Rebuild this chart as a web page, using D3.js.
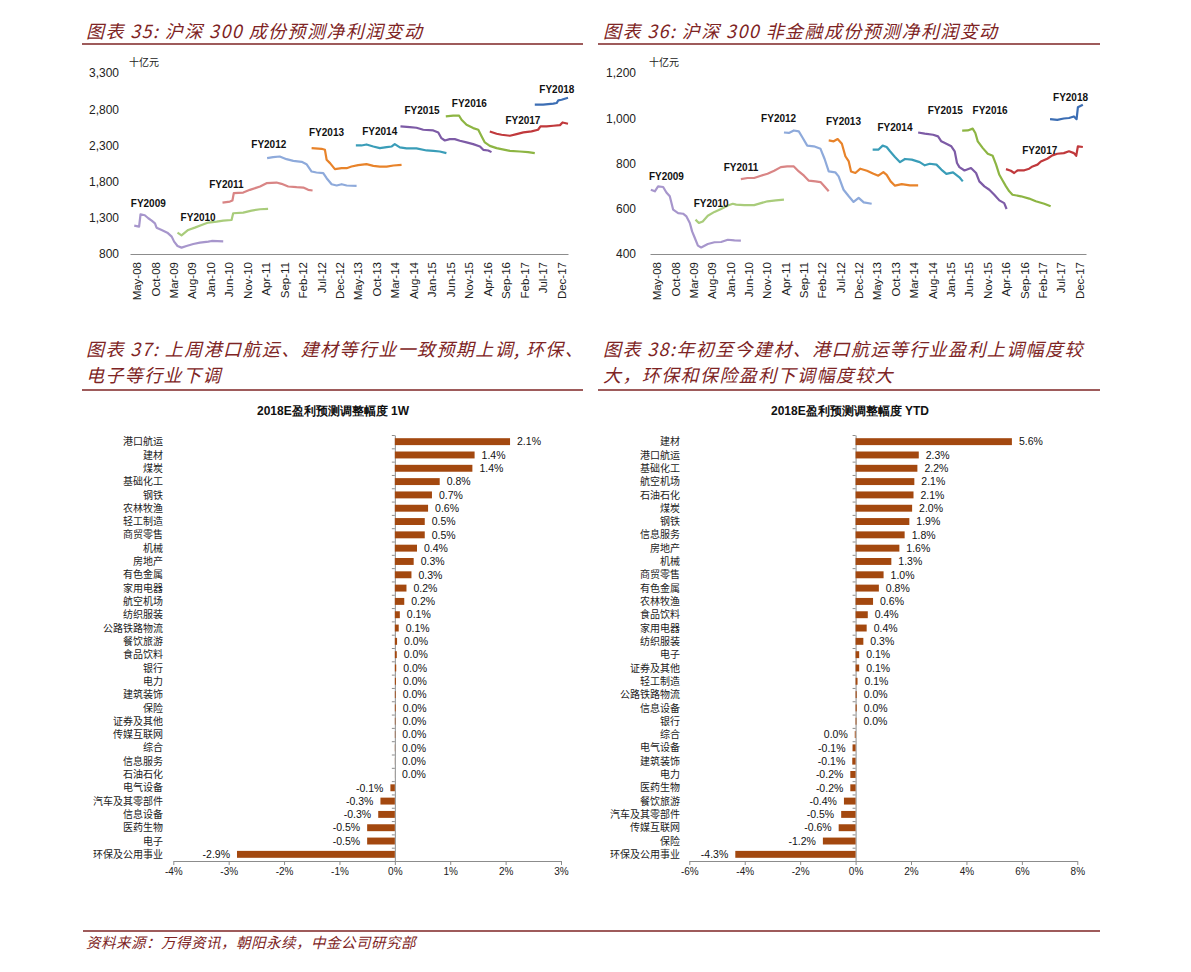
<!DOCTYPE html>
<html><head><meta charset="utf-8">
<script src="https://cdn.jsdelivr.net/npm/d3@7/dist/d3.min.js"></script>
<style>
body{margin:0;background:#fff}
text{font-family:"Liberation Sans",Arial,sans-serif}
.cjk{font-family:"Noto Sans CJK SC",sans-serif}
</style>
</head><body>
<svg id="c" width="1191" height="972"></svg>
<script>
// ---------- DATA ----------
const fyNames = ["FY2009","FY2010","FY2011","FY2012","FY2013","FY2014","FY2015","FY2016","FY2017","FY2018"];
const xTickLabels = ["May-08","Oct-08","Mar-09","Aug-09","Jan-10","Jun-10","Nov-10","Apr-11","Sep-11","Feb-12","Jul-12","Dec-12","May-13","Oct-13","Mar-14","Aug-14","Jan-15","Jun-15","Nov-15","Apr-16","Sep-16","Feb-17","Jul-17","Dec-17"];
const csiYTicks = [800,1300,1800,2300,2800,3300];
const nfYTicks = [400,600,800,1000,1200];

// CSI 300 constituents (十亿元)
const csiFY2009 = [["2008-04-12",1192],["2008-05-22",1178],["2008-06-03",1349],["2008-07-08",1335],["2008-08-06",1294],["2008-09-03",1261],["2008-09-30",1224],["2008-10-13",1164],["2008-11-24",1132],["2009-01-10",1095],["2009-02-15",1040],["2009-03-07",971],["2009-04-04",911],["2009-05-07",888],["2009-06-17",911],["2009-08-12",938],["2009-10-06",957],["2009-12-14",971],["2010-01-11",980],["2010-04-16",975]];
const csiFY2010 = [["2009-04-04",1095],["2009-05-07",1058],["2009-07-01",1132],["2009-08-25",1164],["2009-10-20",1201],["2009-12-14",1234],["2010-02-21",1247],["2010-04-16",1261],["2010-06-24",1270],["2010-07-07",1363],["2010-09-28",1372],["2010-12-06",1400],["2011-02-14",1418],["2011-04-21",1423]];
const csiFY2011 = [["2010-04-10",1510],["2010-06-10",1524],["2010-07-01",1538],["2010-07-12",1640],["2010-09-28",1649],["2010-11-22",1686],["2011-02-14",1732],["2011-04-08",1778],["2011-06-29",1787],["2011-08-10",1769],["2011-10-04",1732],["2011-12-12",1723],["2012-02-06",1718],["2012-03-17",1686],["2012-04-22",1677]];
const csiFY2012 = [["2011-04-13",2124],["2011-06-02",2138],["2011-07-26",2147],["2011-09-20",2110],["2011-11-15",2087],["2012-01-23",2073],["2012-03-03",2041],["2012-04-14",1939],["2012-05-24",1926],["2012-07-19",1916],["2012-08-16",1847],["2012-09-26",1764],["2012-11-07",1746],["2012-12-18",1764],["2013-01-28",1746],["2013-04-20",1741]];
const csiFY2013 = [["2012-04-14",2262],["2012-07-05",2253],["2012-08-02",2239],["2012-08-16",2101],["2012-09-13",2055],["2012-10-23",1972],["2012-12-18",1985],["2013-01-28",1985],["2013-03-09",2008],["2013-05-03",2027],["2013-07-11",2041],["2013-09-05",2018],["2013-10-29",2008],["2013-12-24",2008],["2014-02-18",2022],["2014-04-26",2031]];
const csiFY2014 = [["2013-04-14",2299],["2013-05-30",2299],["2013-07-11",2313],["2013-09-05",2285],["2013-10-29",2262],["2013-12-24",2276],["2014-02-04",2285],["2014-03-01",2318],["2014-04-12",2272],["2014-06-06",2258],["2014-08-27",2258],["2014-11-19",2230],["2015-01-13",2225],["2015-03-07",2216],["2015-05-01",2193]];
const csiFY2015 = [["2014-04-17",2562],["2014-07-03",2553],["2014-08-27",2544],["2014-10-22",2516],["2015-01-13",2507],["2015-02-23",2479],["2015-03-21",2400],["2015-04-18",2368],["2015-05-28",2387],["2015-07-09",2387],["2015-08-20",2364],["2015-10-14",2341],["2015-12-08",2318],["2016-02-02",2285],["2016-02-29",2239],["2016-04-10",2230],["2016-05-07",2207]];
const csiFY2016 = [["2015-04-26",2700],["2015-06-26",2710],["2015-08-14",2710],["2015-09-03",2654],["2015-10-14",2585],["2015-12-08",2539],["2016-01-19",2516],["2016-02-16",2424],["2016-03-13",2341],["2016-04-23",2294],["2016-06-18",2262],["2016-08-26",2239],["2016-10-06",2225],["2016-12-27",2216],["2017-03-05",2207],["2017-04-29",2193]];
const csiFY2017 = [["2016-04-23",2493],["2016-06-18",2461],["2016-07-29",2447],["2016-10-06",2433],["2016-11-30",2456],["2017-01-25",2479],["2017-04-02",2493],["2017-05-26",2516],["2017-06-15",2562],["2017-08-04",2562],["2017-09-29",2571],["2017-11-23",2580],["2017-12-14",2617],["2018-01-28",2599]];
const csiFY2018 = [["2017-04-29",2862],["2017-07-07",2862],["2017-09-29",2876],["2017-10-26",2885],["2017-11-09",2922],["2017-12-06",2931],["2018-01-28",2958]];
const csiLabelAnchors = [["2008-08-06",1492],["2009-09-21",1307],["2010-05-12",1755],["2011-04-27",2308],["2012-08-15",2484],["2013-10-28",2493],["2014-10-12",2779],["2015-11-06",2885],["2017-01-21",2640],["2017-10-28",3079]];

// CSI 300 non-financial constituents (十亿元)
const nfFY2009 = [["2008-03-15",684],["2008-04-17",677],["2008-05-14",699],["2008-06-25",696],["2008-07-22",672],["2008-08-19",655],["2008-09-16",596],["2008-10-27",581],["2008-12-07",578],["2009-01-04",566],["2009-02-01",537],["2009-02-20",500],["2009-03-12",474],["2009-04-09",437],["2009-05-06",429],["2009-06-30",444],["2009-08-24",452],["2009-10-18",453],["2009-12-13",463],["2010-02-06",460],["2010-03-31",459]];
const nfFY2010 = [["2009-03-20",552],["2009-04-17",537],["2009-05-19",544],["2009-06-30",569],["2009-08-24",586],["2009-10-18",599],["2009-12-13",614],["2010-01-23",622],["2010-02-20",618],["2010-04-28",616],["2010-07-19",616],["2010-09-13",625],["2010-11-07",633],["2011-01-15",637],["2011-03-23",640]];
const nfFY2011 = [["2010-03-31",731],["2010-05-25",736],["2010-07-19",736],["2010-09-13",746],["2010-11-07",755],["2011-01-01",768],["2011-02-25",784],["2011-04-19",787],["2011-06-13",787],["2011-07-24",765],["2011-09-05",746],["2011-10-15",724],["2011-12-09",721],["2012-01-20",718],["2012-02-17",702],["2012-03-28",677]];
const nfFY2012 = [["2011-03-23",937],["2011-05-03",935],["2011-06-13",946],["2011-07-24",942],["2011-08-21",917],["2011-10-02",879],["2011-11-26",876],["2012-01-20",865],["2012-02-23",820],["2012-03-28",765],["2012-05-21",761],["2012-06-18",743],["2012-07-29",684],["2012-09-10",655],["2012-10-20",630],["2012-12-01",648],["2013-01-12",628],["2013-03-19",622]];
const nfFY2013 = [["2012-03-28",902],["2012-05-08",898],["2012-06-10",908],["2012-07-15",887],["2012-08-13",832],["2012-09-10",809],["2012-09-29",765],["2012-11-04",758],["2012-12-15",777],["2013-02-08",768],["2013-04-03",755],["2013-05-13",746],["2013-06-24",762],["2013-07-21",750],["2013-08-23",721],["2013-09-28",702],["2013-11-23",709],["2014-01-30",703],["2014-04-08",703]];
const nfFY2014 = [["2013-03-27",861],["2013-05-13",861],["2013-06-18",879],["2013-07-21",873],["2013-08-18",854],["2013-09-28",829],["2013-11-09",806],["2013-12-20",820],["2014-02-14",817],["2014-04-21",806],["2014-06-02",792],["2014-07-13",799],["2014-09-07",795],["2014-10-17",773],["2014-11-28",754],["2015-01-22",761],["2015-03-16",739],["2015-04-13",721]];
const nfFY2015 = [["2014-04-08",937],["2014-06-02",932],["2014-08-10",927],["2014-09-20",920],["2014-10-17",898],["2014-11-28",887],["2015-01-08",876],["2015-02-05",854],["2015-02-24",802],["2015-03-16",784],["2015-04-27",769],["2015-06-20",780],["2015-08-01",758],["2015-08-28",721],["2015-10-09",699],["2015-11-19",684],["2015-12-30",662],["2016-02-10",637],["2016-03-21",625],["2016-04-10",599]];
const nfFY2016 = [["2015-04-08",945],["2015-05-24",946],["2015-07-04",954],["2015-07-26",935],["2015-08-15",898],["2015-09-26",868],["2015-11-06",843],["2015-12-17",834],["2016-01-14",795],["2016-02-10",750],["2016-03-08",725],["2016-04-05",699],["2016-05-02",677],["2016-05-29",662],["2016-08-07",655],["2016-10-14",645],["2016-12-08",633],["2017-02-16",622],["2017-04-10",611]];
const nfFY2017 = [["2016-04-05",775],["2016-05-15",768],["2016-06-12",758],["2016-07-10",770],["2016-09-04",770],["2016-10-14",777],["2016-11-11",787],["2016-12-22",795],["2017-01-19",809],["2017-03-13",821],["2017-04-24",836],["2017-06-04",843],["2017-07-28",846],["2017-09-09",854],["2017-10-20",846],["2017-11-08",834],["2017-11-22",876],["2018-01-02",873]];
const nfFY2018 = [["2017-04-05",996],["2017-06-04",993],["2017-07-28",999],["2017-09-09",1001],["2017-10-20",1008],["2017-11-11",996],["2017-11-22",1049],["2018-01-02",1060]];
const nfLabelAnchors = [["2008-07-22",743],["2009-07-28",625],["2010-04-01",784],["2011-02-07",1001],["2012-07-28",986],["2013-09-28",957],["2014-11-19",1033],["2015-11-25",1035],["2017-01-10",858],["2017-09-22",1092]];

// 1W revision (%)
const w1Categories = ["港口航运","建材","煤炭","基础化工","钢铁","农林牧渔","轻工制造","商贸零售","机械","房地产","有色金属","家用电器","航空机场","纺织服装","公路铁路物流","餐饮旅游","食品饮料","银行","电力","建筑装饰","保险","证券及其他","传媒互联网","综合","信息服务","石油石化","电气设备","汽车及其零部件","信息设备","医药生物","电子","环保及公用事业"];
const w1Values = [2.08,1.44,1.40,0.81,0.67,0.60,0.54,0.54,0.40,0.34,0.30,0.21,0.17,0.09,0.07,0.04,0.035,0.025,0.02,0.015,0.015,0.01,0.008,0.004,0.002,0.001,-0.08,-0.26,-0.30,-0.50,-0.50,-2.85];
const w1Ticks = [-4,-3,-2,-1,0,1,2,3];

// YTD revision (%)
const ytdCategories = ["建材","港口航运","基础化工","航空机场","石油石化","煤炭","钢铁","信息服务","房地产","机械","商贸零售","有色金属","农林牧渔","食品饮料","家用电器","纺织服装","电子","证券及其他","轻工制造","公路铁路物流","信息设备","银行","综合","电气设备","建筑装饰","电力","医药生物","餐饮旅游","汽车及其零部件","传媒互联网","保险","环保及公用事业"];
const ytdValues = [5.64,2.28,2.23,2.12,2.09,2.04,1.94,1.77,1.58,1.29,1.01,0.84,0.63,0.44,0.40,0.28,0.13,0.13,0.07,0.04,0.04,0.03,-0.03,-0.11,-0.12,-0.19,-0.19,-0.42,-0.52,-0.61,-1.18,-4.34];
const ytdTicks = [-6,-4,-2,0,2,4,6,8];

// ---------- STYLE ----------
const fyColors = ["#a796cc","#a9cc7b","#d98585","#8eaadb","#e8832a","#3a9db8","#7d5ba6","#8db543","#c0393c","#3c6eb4"];
const maroon = "#7e2424";
const barColor = "#a3480f";
const axisColor = "#8c8c8c";

const svg = d3.select("#c");
const parse = d3.timeParse("%Y-%m-%d");
const parseTick = d3.timeParse("%b-%y");

// ---------- Titles ----------
function title(lines, x, y0, x1, x2, ruleY){
  lines.forEach((t,i)=>{
    svg.append("text").attr("class","cjk").attr("x",x).attr("y",y0+i*26)
      .attr("font-size",18).attr("font-style","italic").attr("letter-spacing",1.4).attr("fill",maroon).text(t);
  });
  svg.append("line").attr("x1",x1).attr("x2",x2).attr("y1",ruleY).attr("y2",ruleY)
    .attr("stroke",maroon).attr("stroke-width",1.4);
}
title(["图表 35:  沪深 300 成份预测净利润变动"],86,38,82,583,44);
title(["图表 36:  沪深 300 非金融成份预测净利润变动"],603,38,598,1100,44);
title(["图表 37:  上周港口航运、建材等行业一致预期上调, 环保、","电子等行业下调"],86,356,82,583,390);
title(["图表 38:年初至今建材、港口航运等行业盈利上调幅度较","大，环保和保险盈利下调幅度较大"],603,356,598,1100,390);

// footer
svg.append("line").attr("x1",83).attr("x2",1100).attr("y1",931).attr("y2",931).attr("stroke",maroon).attr("stroke-width",1.4);
svg.append("text").attr("class","cjk").attr("x",86).attr("y",948).attr("font-size",14.5).attr("letter-spacing",0.5)
  .attr("font-style","italic").attr("fill",maroon).text("资料来源：万得资讯，朝阳永续，中金公司研究部");

// ---------- Line charts ----------
function lineChart(cfg){
  const g = svg.append("g");
  const x = d3.scaleTime().domain([new Date(2008,2,8), new Date(2018,0,28)]).range(cfg.xr);
  const y = d3.scaleLinear().domain(cfg.yd).range([254,73]);
  const ya = g.append("g").attr("transform",`translate(${cfg.xr[0]},0)`)
    .call(d3.axisLeft(y).tickValues(cfg.yticks).tickFormat(d3.format(",")).tickSize(0).tickPadding(cfg.ypad));
  ya.select(".domain").remove();
  ya.selectAll("text").attr("font-size",12).attr("fill","#222").attr("font-family","Liberation Sans, Arial");
  const xa = g.append("g").attr("transform","translate(0,254)")
    .call(d3.axisBottom(x).tickValues(xTickLabels.map(parseTick)).tickFormat(d3.timeFormat("%b-%y")).tickSize(0).tickSizeOuter(0));
  xa.select(".domain").attr("stroke",axisColor);
  xa.selectAll("text").attr("font-size",11.5).attr("fill","#222").attr("font-family","Liberation Sans, Arial")
    .attr("transform","rotate(-90)").attr("text-anchor","end").attr("x",-8).attr("y",0).attr("dy","0.35em");
  g.append("text").attr("class","cjk").attr("x",cfg.xr[0]-1).attr("y",66).attr("font-size",10).attr("fill","#222").text("十亿元");
  const line = d3.line().x(d=>x(parse(d[0]))).y(d=>y(d[1]));
  cfg.series.forEach((s,i)=>{
    g.append("path").datum(s).attr("d",line).attr("fill","none")
      .attr("stroke",fyColors[i]).attr("stroke-width",2.2).attr("stroke-linejoin","round");
  });
  cfg.labels.forEach((a,i)=>{
    g.append("text").attr("x",x(parse(a[0]))).attr("y",y(a[1])).attr("dy","0.35em")
      .attr("text-anchor","middle").attr("font-size",10).attr("font-weight","bold").attr("fill","#111")
      .text(fyNames[i]);
  });
}
lineChart({xr:[130,568], yd:[800,3300], yticks:csiYTicks, ypad:11,
  series:[csiFY2009,csiFY2010,csiFY2011,csiFY2012,csiFY2013,csiFY2014,csiFY2015,csiFY2016,csiFY2017,csiFY2018],
  labels:csiLabelAnchors});
lineChart({xr:[650,1086], yd:[400,1200], yticks:nfYTicks, ypad:14,
  series:[nfFY2009,nfFY2010,nfFY2011,nfFY2012,nfFY2013,nfFY2014,nfFY2015,nfFY2016,nfFY2017,nfFY2018],
  labels:nfLabelAnchors});

// ---------- Bar charts ----------
const pct = v => { const r = Math.round(Math.abs(v)*10)/10; return (v<0 && r>0 ? "-" : "") + r.toFixed(1) + "%"; };
function barChart(cfg){
  const g = svg.append("g");
  const x = d3.scaleLinear().domain(cfg.xd).range(cfg.xr);
  const y = d3.scaleBand().domain(cfg.cats).range([435,861]).paddingInner(0.48).paddingOuter(0.24);
  g.append("text").attr("x",cfg.titleX).attr("y",415).attr("text-anchor","middle")
    .attr("font-size",12).attr("font-weight","bold").attr("fill","#111")
    .attr("font-family","Liberation Sans, Noto Sans CJK SC").text(cfg.title);
  const xa = g.append("g").attr("transform","translate(0,861)")
    .call(d3.axisBottom(x).tickValues(cfg.ticks).tickFormat(d=>d+"%").tickSize(4).tickSizeOuter(0).tickPadding(3));
  xa.select(".domain").attr("stroke",axisColor);
  xa.selectAll(".tick line").attr("stroke",axisColor);
  xa.selectAll("text").attr("font-size",10).attr("fill","#222").attr("font-family","Liberation Sans, Arial");
  const yb = d3.scaleLinear().domain([0,cfg.cats.length]).range([435,861]);
  const ya = g.append("g").attr("transform",`translate(${x(0)},0)`)
    .call(d3.axisLeft(yb).tickValues(d3.range(cfg.cats.length+1)).tickFormat("").tickSize(3).tickSizeOuter(0));
  ya.select(".domain").attr("stroke",axisColor);
  ya.selectAll(".tick line").attr("stroke",axisColor);
  g.selectAll("rect.bar").data(cfg.vals).join("rect").attr("class","bar")
    .attr("x",d=>x(Math.min(0,d))).attr("width",d=>Math.abs(x(d)-x(0)))
    .attr("y",(d,i)=>y(cfg.cats[i])).attr("height",y.bandwidth()).attr("fill",barColor);
  g.selectAll("text.val").data(cfg.vals).join("text").attr("class","val")
    .attr("x",d=> d>=0 ? x(d)+7 : x(d)-7).attr("text-anchor",d=>d>=0?"start":"end")
    .attr("y",(d,i)=>y(cfg.cats[i])+y.bandwidth()/2).attr("dy","0.36em")
    .attr("font-size",10.5).attr("fill","#111").text(pct);
  g.selectAll("text.cat").data(cfg.cats).join("text").attr("class","cat cjk")
    .attr("x",cfg.labelX).attr("text-anchor","end")
    .attr("y",d=>y(d)+y.bandwidth()/2).attr("dy","0.36em")
    .attr("font-size",10).attr("fill","#222").text(d=>d);
}
barChart({title:"2018E盈利预测调整幅度 1W", titleX:333, xd:[-4,3], xr:[173.3,561], ticks:w1Ticks,
  cats:w1Categories, vals:w1Values, labelX:163});
barChart({title:"2018E盈利预测调整幅度 YTD", titleX:850, xd:[-6,8], xr:[689.3,1077.3], ticks:ytdTicks,
  cats:ytdCategories, vals:ytdValues, labelX:680});
</script>
</body></html>
